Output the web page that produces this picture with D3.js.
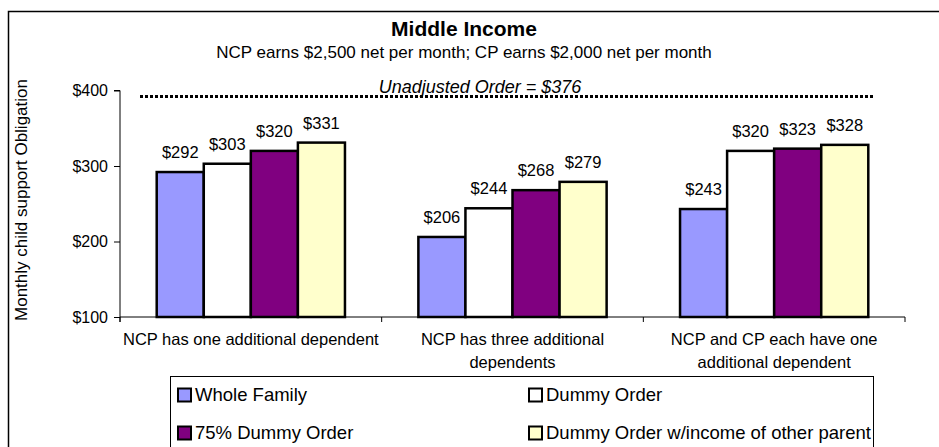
<!DOCTYPE html>
<html>
<head>
<meta charset="utf-8">
<script src="https://cdn.jsdelivr.net/npm/d3@7"></script>
<style>
  html, body { margin: 0; padding: 0; background: #fff; }
  svg { display: block; font-family: "Liberation Sans", Arial, sans-serif; }
</style>
</head>
<body>
<svg id="chart" width="939" height="447"></svg>
<script>
// ---- data ----
const categories = [
  "NCP has one additional dependent",
  "NCP has three additional dependents",
  "NCP and CP each have one additional dependent"
];
const seriesNames = ["Whole Family", "Dummy Order", "75% Dummy Order", "Dummy Order w/income of other parent"];
const wholeFamily = [292, 206, 243];
const dummyOrder = [303, 244, 320];
const dummyOrder75 = [320, 268, 323];
const dummyOrderOther = [331, 279, 328];
const seriesColors = ["#9999FF", "#FFFFFF", "#800080", "#FFFFCC"];
const yTicks = [100, 200, 300, 400];
const unadjustedOrder = 376;
const unadjustedLineLevel = 392; // drawn level of the dotted reference line as it appears
const titleText = "Middle Income";
const subtitleText = "NCP earns $2,500 net per month; CP earns $2,000 net per month";
const yAxisTitle = "Monthly child support Obligation";

const seriesValues = [wholeFamily, dummyOrder, dummyOrder75, dummyOrderOther];

// ---- layout ----
const svg = d3.select("#chart");
const plot = { left: 120, right: 905, top: 90.5, bottom: 317 };

// outer frame
svg.append("rect")
  .attr("x", 8.5).attr("y", 11.5)
  .attr("width", 1000).attr("height", 1000)
  .attr("fill", "none").attr("stroke", "#000").attr("stroke-width", 1.5);

const y = d3.scaleLinear().domain([100, 400]).range([plot.bottom, plot.top]);
const x0 = d3.scaleBand().domain(categories).range([plot.left, plot.right]).padding(0);
const x1 = d3.scaleBand().domain(seriesNames).range([0, x0.bandwidth()])
  .paddingInner(0).paddingOuter(0.78);

// title
svg.append("text").attr("x", 464).attr("y", 36)
  .attr("text-anchor", "middle").attr("font-size", 21).attr("font-weight", "bold")
  .text(titleText);
svg.append("text").attr("x", 464).attr("y", 58)
  .attr("text-anchor", "middle").attr("font-size", 17)
  .text(subtitleText);

// y axis
const yAxis = d3.axisLeft(y).tickValues(yTicks).tickSize(6).tickPadding(6)
  .tickFormat(d => "$" + d);
const gy = svg.append("g").attr("transform", `translate(${plot.left},0)`).call(yAxis);
gy.select(".domain").attr("d", `M-6,${y(400)}H0V${plot.bottom + 5}`).attr("stroke", "#000");
gy.selectAll(".tick line").attr("stroke", "#000");
gy.selectAll(".tick text").attr("font-size", 16).attr("fill", "#000")
  .attr("font-family", "Liberation Sans, Arial, sans-serif");

// x axis (category boundaries)
const xb = svg.append("g");
xb.append("line").attr("x1", plot.left).attr("x2", plot.right)
  .attr("y1", plot.bottom).attr("y2", plot.bottom).attr("stroke", "#000");
const bounds = categories.map(c => x0(c)).concat([plot.right]);
xb.selectAll("line.bt").data(bounds).join("line").attr("class", "bt")
  .attr("x1", d => d).attr("x2", d => d)
  .attr("y1", plot.bottom).attr("y2", plot.bottom + 5).attr("stroke", "#000");

// y axis title
svg.append("text")
  .attr("transform", `translate(27,200) rotate(-90)`)
  .attr("text-anchor", "middle").attr("font-size", 17)
  .text(yAxisTitle);

// bars
const groups = svg.append("g").selectAll("g").data(categories).join("g")
  .attr("transform", c => `translate(${x0(c)},0)`);
groups.each(function(c, ci) {
  const g = d3.select(this);
  seriesNames.forEach((s, si) => {
    const v = seriesValues[si][ci];
    g.append("rect")
      .attr("x", x1(s)).attr("y", y(v))
      .attr("width", x1.bandwidth()).attr("height", y(100) - y(v))
      .attr("fill", seriesColors[si]).attr("stroke", "#000").attr("stroke-width", 2.5);
    g.append("text")
      .attr("x", x1(s) + x1.bandwidth() / 2).attr("y", y(v) - 14)
      .attr("text-anchor", "middle").attr("font-size", 16.5)
      .text("$" + v);
  });
});

// category labels with wrap
categories.forEach(c => {
  const maxW = x0.bandwidth() - 2;
  const cx = x0(c) + x0.bandwidth() / 2;
  const t = svg.append("text").attr("text-anchor", "middle").attr("font-size", 16.5)
    .attr("x", cx).attr("y", 345);
  const words = c.split(" ");
  let line = [];
  let tspan = t.append("tspan").attr("x", cx).attr("dy", 0);
  words.forEach(w => {
    line.push(w);
    tspan.text(line.join(" "));
    if (tspan.node().getComputedTextLength() > maxW && line.length > 1) {
      line.pop();
      tspan.text(line.join(" "));
      line = [w];
      tspan = t.append("tspan").attr("x", cx).attr("dy", 23).text(w);
    }
  });
});

// unadjusted order dotted line
svg.append("line")
  .attr("x1", 140).attr("x2", 873)
  .attr("y1", y(unadjustedLineLevel)).attr("y2", y(unadjustedLineLevel))
  .attr("stroke", "#000").attr("stroke-width", 3).attr("stroke-dasharray", "3,2");
svg.append("text").attr("x", 480).attr("y", y(unadjustedLineLevel) - 4)
  .attr("text-anchor", "middle").attr("font-size", 18).attr("font-style", "italic")
  .text("Unadjusted Order = $" + unadjustedOrder);

// legend
const legend = svg.append("g");
legend.append("rect").attr("x", 170.5).attr("y", 376.5).attr("width", 703).attr("height", 200)
  .attr("fill", "#fff").attr("stroke", "#000").attr("stroke-width", 1);
const legendPos = [[178, 395], [529, 395], [178, 433], [529, 433]];
seriesNames.forEach((s, i) => {
  const [lx, ly] = legendPos[i];
  legend.append("rect").attr("x", lx).attr("y", ly - 6.5).attr("width", 13).attr("height", 13)
    .attr("fill", seriesColors[i]).attr("stroke", "#000").attr("stroke-width", 2);
  legend.append("text").attr("x", lx + 17).attr("y", ly).attr("dy", "0.35em")
    .attr("font-size", 18.5).text(s);
});
</script>
</body>
</html>
